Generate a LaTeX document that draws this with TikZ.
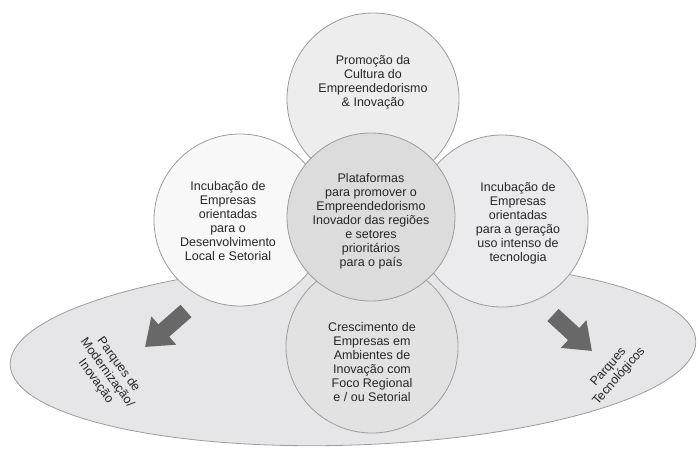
\documentclass[tikz,border=0pt]{standalone}
\usepackage{fontspec}
\setmainfont{Liberation Sans}
\usetikzlibrary{%
	arrows.meta,%
	shapes.geometric
}

\definecolor{rimgray}{HTML}{9C9C9C}
\definecolor{plategray}{HTML}{E6E6E8}
\definecolor{topfill}{HTML}{EDEDED}
\definecolor{leftfill}{HTML}{F8F8F8}
\definecolor{midfill}{HTML}{DCDCDC}
\definecolor{rightfill}{HTML}{EBEBED}
\definecolor{lowfill}{HTML}{E2E2E2}
\definecolor{arrowgray}{HTML}{686868}
\definecolor{inkgray}{HTML}{262626}

\tikzset{
	bubble/.style={circle, draw=rimgray, line width=0.8pt, minimum size=172pt, inner sep=0pt},
	bubbletext/.style={align=center, text=inkgray, inner sep=0pt, font=\fontsize{12.5}{14}\selectfont},
	fatarrow/.style={draw=arrowgray, line width=16.5pt, -{Triangle[length=25pt,width=36pt]}}
}

\begin{document}
\begin{tikzpicture}[x=1pt,y=-1pt]
		\useasboundingbox (0,0) rectangle (698,452);
		\node[ellipse, draw=rimgray, line width=0.8pt, fill=plategray, minimum width=686pt, minimum height=184pt, rotate=2] (plate) at (353,353) {};
		
		\node[bubble, fill=leftfill] (local) at (240,220) {};
		\node[bubble, fill=rightfill] (tecno) at (502,221) {};
		\node[bubble, fill=topfill] (cultura) at (373,99) {};
		\node[bubble, fill=lowfill] (cresc) at (372,347) {};
		\node[bubble, fill=midfill, minimum size=168pt] (plataf) at (371,217) {};
		
		\node[bubbletext] (culturaText) at (373,82) {Promoção da\\Cultura do\\Empreendedorismo\\\& Inovação};
		\node[bubbletext] (platafText) at (371,221) {Plataformas\\para promover o\\Empreendedorismo\\Inovador das regiões\\e setores\\prioritários\\para o país};
		\node[bubbletext] (localText) at (228,221) {Incubação de\\Empresas\\orientadas\\para o\\Desenvolvimento\\Local e Setorial};
		\node[bubbletext] (tecnoText) at (518,223) {Incubação de\\Empresas\\orientadas\\para a geração\\uso intenso de\\tecnologia};
		\node[bubbletext] (crescText) at (372,362) {Crescimento de\\Empresas em\\Ambientes de\\Inovação com\\Foco Regional\\e / ou Setorial};
		
		\node[bubbletext, rotate=-54] (modern) at (107,373) {Parques de\\Modernização/\\Inovação};
		\node[bubbletext, rotate=49] (parques) at (614,372) {Parques\\Tecnológicos};
		
		\coordinate (lTail) at (186,311);
		\coordinate (lTip) at (145,347);
		\coordinate (rTail) at (553,315);
		\coordinate (rTip) at (592,351);
		\draw[fatarrow] (lTail) -- (lTip);
		\draw[fatarrow] (rTail) -- (rTip);
	\end{tikzpicture}
\end{document}
